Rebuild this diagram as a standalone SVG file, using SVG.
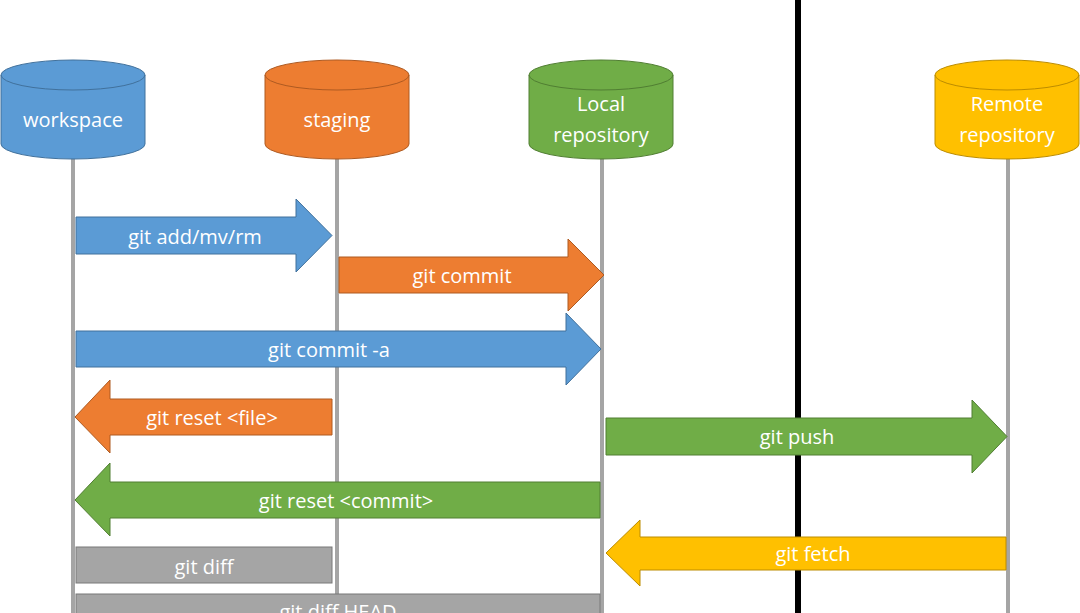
<svg xmlns="http://www.w3.org/2000/svg" width="1080" height="613" viewBox="0 0 1080 613">
<style>
text{font-family:"Open Sans","Liberation Sans",sans-serif;font-size:20px;fill:#fff;text-anchor:middle;dominant-baseline:central}
.life{stroke:#A5A5A5;stroke-width:4}
.b{fill:#5B9BD5;stroke:#41719C;stroke-width:1}
.o{fill:#ED7D31;stroke:#AE5A21;stroke-width:1}
.g{fill:#70AD47;stroke:#507E32;stroke-width:1}
.y{fill:#FFC000;stroke:#BC8C00;stroke-width:1}
.gr{fill:#A5A5A5;stroke:#787878;stroke-width:1}
</style>
<rect width="1080" height="613" fill="#fff"/>
<g id="lifelines">
<line class="life" x1="73" y1="140" x2="73" y2="613"/>
<line class="life" x1="337" y1="140" x2="337" y2="613"/>
<line class="life" x1="602" y1="140" x2="602" y2="613"/>
<line class="life" x1="1008" y1="140" x2="1008" y2="613"/>
</g>
<line x1="798" y1="0" x2="798" y2="613" stroke="#000" stroke-width="6"/>
<g id="workspace">
<path class="b" d="M1,75 V144 A72,15 0 0 0 145,144 V75 A72,15 0 0 0 1,75 Z"/>
<path d="M1,75 A72,15 0 0 0 145,75" fill="none" stroke="#41719C"/>
<text x="73" y="119">workspace</text>
</g>
<g id="staging">
<path class="o" d="M265,75 V144 A72,15 0 0 0 409,144 V75 A72,15 0 0 0 265,75 Z"/>
<path d="M265,75 A72,15 0 0 0 409,75" fill="none" stroke="#AE5A21"/>
<text x="337" y="119">staging</text>
</g>
<g id="local">
<path class="g" d="M529,75 V144 A72,15 0 0 0 673,144 V75 A72,15 0 0 0 529,75 Z"/>
<path d="M529,75 A72,15 0 0 0 673,75" fill="none" stroke="#507E32"/>
<text x="601" y="103">Local</text>
<text x="601" y="134">repository</text>
</g>
<g id="remote">
<path class="y" d="M935,75 V144 A72,15 0 0 0 1079,144 V75 A72,15 0 0 0 935,75 Z"/>
<path d="M935,75 A72,15 0 0 0 1079,75" fill="none" stroke="#BC8C00"/>
<text x="1007" y="103">Remote</text>
<text x="1007" y="134">repository</text>
</g>
<g id="connectors">
<path class="b" d="M76,217 H296 V199 L332,235.5 L296,272 V254 H76 Z"/>
<text x="195" y="236">git add/mv/rm</text>
<path class="o" d="M339,257 H568 V239 L604,275 L568,311 V293 H339 Z"/>
<text x="462" y="275">git commit</text>
<path class="b" d="M76,331 H566 V313 L601,349 L566,385 V367 H76 Z"/>
<text x="329" y="349">git commit -a</text>
<path class="o" d="M332,399 H110 V380 L75,417 L110,453 V435 H332 Z"/>
<text x="212" y="417">git reset &lt;file&gt;</text>
<path class="g" d="M606,418 H972 V400 L1007,436.5 L972,473 V455 H606 Z"/>
<text x="797" y="436">git push</text>
<path class="g" d="M600,482 H110 V463 L75,500 L110,536 V518 H600 Z"/>
<text x="346" y="500">git reset &lt;commit&gt;</text>
<path class="y" d="M1006,537 H640 V520 L606,553 L640,586 V570 H1006 Z"/>
<text x="813" y="553">git fetch</text>
<rect class="gr" x="76" y="547" width="256" height="36"/>
<text x="204" y="566">git diff</text>
<rect class="gr" x="76" y="594" width="524" height="36"/>
<text x="338" y="611">git diff HEAD</text>
</g>
</svg>
